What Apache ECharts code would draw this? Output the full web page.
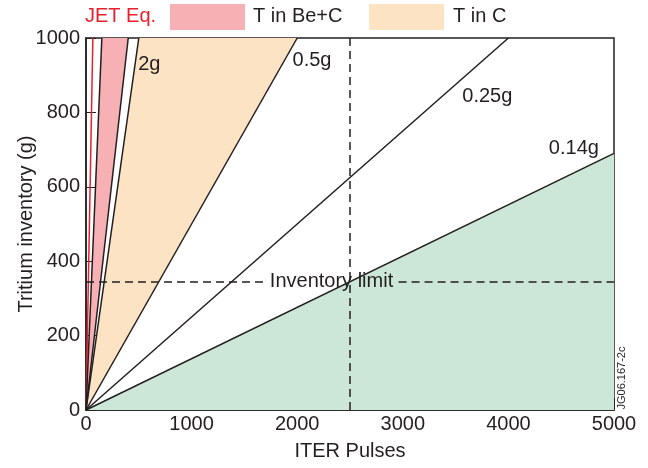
<!DOCTYPE html>
<html>
<head>
<meta charset="utf-8">
<script src="https://cdn.jsdelivr.net/npm/echarts@6/dist/echarts.min.js"></script>
<style>
  html, body { margin: 0; padding: 0; background: #fff; }
  #chart { width: 648px; height: 468px; }
</style>
</head>
<body>
<div id="chart"></div>
<script>
// axis ticks
const xTicks = [0, 1000, 2000, 3000, 4000, 5000]
const yTicks = [0, 200, 400, 600, 800, 1000]

// straight lines from the origin: end points
const lineNames = ['JET Eq.', 'Be+C low', 'Be+C high', '2g', '0.5g', '0.25g', '0.14g']
const lineEndX = [65, 150, 400, 500, 2000, 4000, 5000]
const lineEndY = [1000, 1000, 1000, 1000, 1000, 1000, 690]

// shaded bands (polygon corners in data units)
const pinkBand = [[0, 0], [150, 1000], [400, 1000]]
const peachBand = [[0, 0], [500, 1000], [2000, 1000]]
const greenBand = [[0, 0], [5000, 690], [5000, 0]]

// line labels
const labelText = ['2g', '0.5g', '0.25g', '0.14g']
const labelX = [600, 2140, 3800, 4620]
const labelY = [930, 940, 843, 703]

// inventory limit / ITER pulse markers
const limitY = 345
const limitX = 2500
const limitTextX = 2325

const ink = '#231f20'
const font = 'Liberation Sans, Arial, sans-serif'

function bandSeries(name, pts, color) {
  return {
    name: name,
    type: 'custom',
    silent: true,
    z: 1,
    data: pts,
    renderItem(params, api) {
      if (params.dataIndex !== 0) return
      return {
        type: 'polygon',
        shape: { points: pts.map(p => api.coord(p)) },
        style: { fill: color }
      }
    }
  }
}

const series = [
  bandSeries('green', greenBand, '#cce6d7'),
  bandSeries('peach', peachBand, '#fce3c4'),
  bandSeries('pink', pinkBand, '#f7b0b4')
]

for (const i in lineNames) {
  series.push({
    name: lineNames[i],
    type: 'line',
    symbol: 'none',
    z: 3,
    lineStyle: { color: i == 0 ? '#e8202e' : ink, width: 1.5 },
    data: [[0, 0], [lineEndX[i], lineEndY[i]]]
  })
}

// dashed limit lines
series.push({
  name: 'limits',
  type: 'line',
  data: [],
  z: 2,
  markLine: {
    silent: true,
    symbol: 'none',
    label: { show: false },
    lineStyle: { color: ink, width: 1.5, type: [8, 5] },
    data: [
      [{ coord: [0, limitY] }, { coord: [1700, limitY] }],
      [{ coord: [2960, limitY] }, { coord: [5000, limitY] }],
      [{ coord: [limitX, 0] }, { coord: [limitX, 1000] }]
    ]
  }
})

// text labels anchored in data space
series.push({
  name: 'labels',
  type: 'scatter',
  symbolSize: 1,
  z: 4,
  silent: true,
  itemStyle: { color: 'transparent', opacity: 1 },
  label: {
    show: true,
    position: 'inside',
    color: ink,
    opacity: 1,
    textBorderWidth: 0,
    fontSize: 20,
    fontFamily: font,
    formatter: p => p.data[2]
  },
  data: labelText.map((t, i) => [labelX[i], labelY[i], t]).concat([[limitTextX, limitY, 'Inventory limit']])
})

const chart = echarts.init(document.getElementById('chart'))
chart.setOption({
  animation: false,
  grid: {
    left: 86, right: 34, top: 38, bottom: 58,
    outerBoundsMode: 'none',
    show: true,
    borderColor: ink,
    borderWidth: 1.5,
    backgroundColor: 'transparent'
  },
  xAxis: {
    type: 'value',
    min: xTicks[0],
    max: xTicks[xTicks.length - 1],
    interval: 1000,
    name: 'ITER Pulses',
    nameLocation: 'middle',
    nameGap: 31,
    nameMoveOverlap: false,
    nameTextStyle: { color: ink, fontSize: 20, fontFamily: font },
    axisLine: { lineStyle: { color: ink, width: 1.5 } },
    axisTick: { inside: true, length: 12, lineStyle: { color: ink, width: 1 } },
    axisLabel: { color: ink, fontSize: 20, fontFamily: font, margin: 4, formatter: v => String(v) },
    splitLine: { show: false }
  },
  yAxis: {
    type: 'value',
    min: yTicks[0],
    max: yTicks[yTicks.length - 1],
    interval: 200,
    name: 'Tritium inventory (g)',
    nameLocation: 'middle',
    nameGap: 50,
    nameMoveOverlap: false,
    nameTextStyle: { color: ink, fontSize: 20, fontFamily: font },
    axisLine: { lineStyle: { color: ink, width: 1.5 } },
    axisTick: { inside: true, length: 10, lineStyle: { color: ink, width: 1 } },
    axisLabel: { color: ink, fontSize: 20, fontFamily: font, margin: 6, formatter: v => String(v) },
    splitLine: { show: false }
  },
  graphic: [
    { type: 'text', left: 85, top: 6, style: { text: 'JET Eq.', fill: '#e8202e', font: '20px ' + font } },
    { type: 'rect', left: 170, top: 4, shape: { width: 75, height: 26 }, style: { fill: '#f7b0b4' } },
    { type: 'text', left: 253, top: 6, style: { text: 'T in Be+C', fill: ink, font: '20px ' + font } },
    { type: 'rect', left: 369, top: 4, shape: { width: 75, height: 26 }, style: { fill: '#fce3c4' } },
    { type: 'text', left: 453, top: 6, style: { text: 'T in C', fill: ink, font: '20px ' + font } },
    {
      type: 'text', x: 622, y: 378, rotation: Math.PI / 2,
      style: { text: 'JG06.167-2c', fill: ink, font: '11px ' + font, align: 'center', verticalAlign: 'middle' }
    }
  ],
  series: series
})
</script>
</body>
</html>
